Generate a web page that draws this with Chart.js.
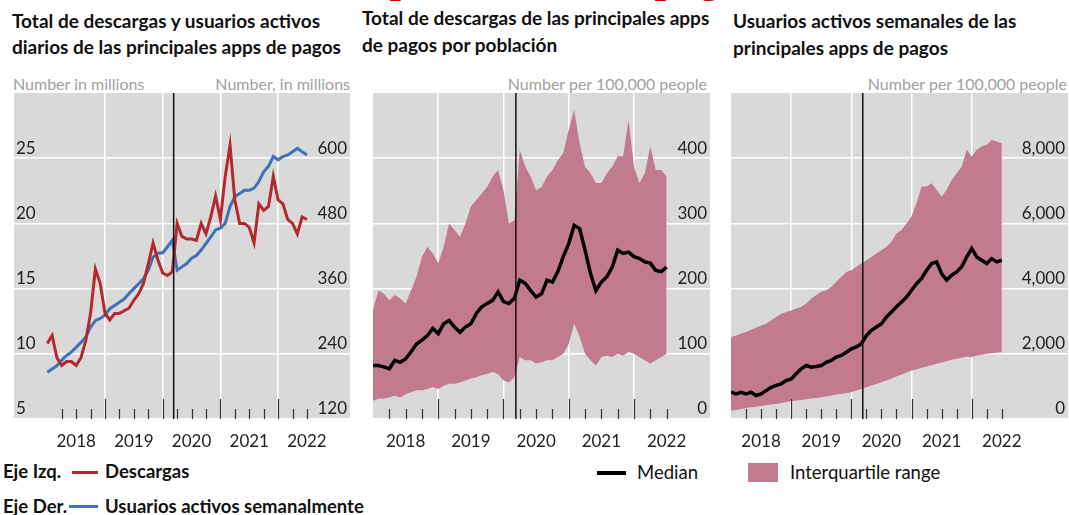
<!DOCTYPE html>
<html lang="es">
<head>
<meta charset="UTF-8" />
<title>Apps de pagos</title>
<style>
  * { margin: 0; padding: 0; box-sizing: border-box; }
  body {
    width: 1069px; height: 515px; position: relative; overflow: hidden;
    background: #fff; font-family: Lato, sans-serif; color: #111;
  }
  .t { position: absolute; font-weight: bold; font-size: 19px; line-height: 1; white-space: nowrap; }
  .u { position: absolute; color: #a0a0a0; font-size: 16px; line-height: 1; white-space: nowrap; }
  .lg { position: absolute; font-size: 18.5px; line-height: 1; white-space: nowrap; }
  .b { font-weight: bold; }
  .sw { position: absolute; }
  .box { position: absolute; top: 93px; height: 367px; }
  .clip { position: absolute; left: 0; top: 0; width: 1069px; height: 9px; overflow: hidden; }
  .red-head {
    position: absolute; top: -43px; font-family: "Liberation Serif", serif;
    font-weight: bold; font-size: 42px; line-height: 1; color: #d40000; white-space: nowrap;
  }
</style>
</head>
<body>
  <div class="clip">
    <div class="red-head" style="left:359px">Ap</div>
    <div class="red-head" style="left:602px">de pago</div>
  </div>

  <div class="t" style="left:12px; top:11px">Total de descargas y usuarios activos</div>
  <div class="t" style="left:12px; top:37px">diarios de las principales apps de pagos</div>
  <div class="t" style="left:362px; top:8px">Total de descargas de las principales apps</div>
  <div class="t" style="left:362px; top:35px">de pagos por población</div>
  <div class="t" style="left:733px; top:11px">Usuarios activos semanales de las</div>
  <div class="t" style="left:733px; top:38px">principales apps de pagos</div>

  <div class="u" style="left:13px; top:76px">Number in millions</div>
  <div class="u" style="right:719px; top:76px">Number, in millions</div>
  <div class="u" style="right:362px; top:76px">Number per 100,000 people</div>
  <div class="u" style="right:2px; top:76px">Number per 100,000 people</div>

  <div class="box" style="left:14px; width:336px"><canvas id="c1"></canvas></div>
  <div class="box" style="left:373px; width:337px"><canvas id="c2"></canvas></div>
  <div class="box" style="left:731px; width:337px"><canvas id="c3"></canvas></div>

  <div class="lg b" style="left:3px; top:462px">Eje Izq.</div>
  <div class="sw" style="left:72px; top:471px; width:26px; height:3px; background:#b5282d"></div>
  <div class="lg b" style="left:105px; top:462px">Descargas</div>
  <div class="lg b" style="left:3px; top:497px">Eje Der.</div>
  <div class="sw" style="left:69px; top:505px; width:29px; height:3px; background:#3d72b8"></div>
  <div class="lg b" style="left:105px; top:497px">Usuarios activos semanalmente</div>

  <div class="sw" style="left:597px; top:471px; width:29px; height:3.5px; background:#000"></div>
  <div class="lg" style="left:637px; top:463px">Median</div>
  <div class="sw" style="left:748px; top:463px; width:30px; height:19px; background:#c27b8e"></div>
  <div class="lg" style="left:790px; top:463px">Interquartile range</div>

  <script src="https://cdn.jsdelivr.net/npm/chart.js"></script>
  <script>
    // monthly observations, 2018-01 .. 2022-07
    const months = [];
    for (let y = 2018; y <= 2022; y++) {
      for (let m = 1; m <= 12; m++) {
        if (y === 2022 && m > 7) break;
        months.push(y + "-" + String(m).padStart(2, "0"));
      }
    }
    const yearLabels = ["2018", "2019", "2020", "2021", "2022"];
    const covidMark = 2020.19;

    // panel 1 (left axis: millions of downloads, right axis: millions of users)
    const descargas = [10.8, 11.4, 9.7, 9.1, 9.4, 9.4, 9.1, 9.7, 11.0, 13.1, 16.5, 15.4, 13.1, 12.6,
      13.1, 13.1, 13.3, 13.5, 14.1, 14.6, 15.4, 16.9, 18.5, 17.2, 16.2, 16.0, 16.3, 20.0, 19.0, 18.8,
      18.8, 18.7, 20.0, 19.2, 20.5, 22.1, 20.3, 23.6, 26.0, 21.8, 20.0, 20.0, 19.7, 18.5, 21.5, 21.0,
      21.3, 23.6, 21.8, 21.5, 20.3, 20.0, 19.2, 20.5, 20.3];
    const usuarios = [206, 212, 218, 228, 237, 243, 252, 261, 271, 289, 301, 305, 311, 323, 329, 335,
      341, 351, 360, 369, 378, 394, 418, 425, 426, 437, 449, 394, 400, 406, 416, 421, 431, 443, 455,
      468, 471, 480, 511, 529, 535, 541, 541, 545, 557, 575, 585, 603, 597, 603, 606, 612, 618, 612, 606];

    // panel 2 (downloads per 100,000 people)
    const descMedian = [82, 82, 80, 77, 90, 87, 92, 103, 115, 121, 128, 139, 131, 146, 151, 141, 133,
      141, 146, 162, 172, 177, 182, 195, 180, 177, 185, 213, 208, 197, 187, 192, 213, 210, 226, 249,
      269, 297, 292, 259, 223, 197, 210, 218, 233, 259, 254, 256, 249, 246, 241, 239, 228, 226, 233];
    const descQ3 = [167, 197, 192, 182, 190, 185, 177, 197, 218, 249, 264, 254, 239, 264, 300, 290,
      279, 300, 326, 336, 346, 356, 372, 382, 351, 300, 305, 413, 387, 372, 351, 356, 372, 382, 397,
      408, 444, 474, 423, 387, 377, 362, 362, 377, 387, 403, 403, 459, 387, 362, 377, 418, 382, 382, 372];
    const descQ1 = [28, 31, 31, 33, 36, 33, 38, 41, 44, 44, 46, 49, 46, 51, 54, 54, 56, 59, 62, 64, 67,
      69, 72, 69, 59, 56, 64, 95, 90, 90, 85, 87, 90, 90, 95, 100, 115, 146, 126, 100, 90, 82, 95, 97,
      95, 100, 97, 103, 100, 95, 90, 85, 90, 95, 100];

    // panel 3 (weekly active users per 100,000 people)
    const usuMedian = [820, 770, 820, 770, 820, 720, 770, 870, 970, 1030, 1080, 1180, 1230, 1390, 1540,
      1640, 1590, 1610, 1640, 1740, 1800, 1900, 1950, 2050, 2150, 2210, 2310, 2560, 2720, 2820, 2920,
      3130, 3280, 3440, 3590, 3740, 3950, 4150, 4310, 4560, 4770, 4820, 4460, 4260, 4410, 4510, 4670,
      4970, 5230, 4970, 4870, 4770, 4920, 4820, 4870];
    const usuQ3 = [2510, 2560, 2620, 2670, 2740, 2800, 2870, 2920, 3030, 3130, 3230, 3280, 3330, 3390,
      3440, 3540, 3690, 3800, 3900, 3950, 4050, 4210, 4360, 4510, 4560, 4670, 4770, 4870, 4970, 5080,
      5180, 5280, 5440, 5690, 5800, 6000, 6210, 6620, 7130, 7130, 7230, 7030, 6820, 7030, 7330, 7540,
      7740, 8260, 8050, 8260, 8360, 8410, 8560, 8510, 8460];
    const usuQ1 = [256, 277, 308, 338, 359, 379, 400, 420, 441, 462, 492, 523, 544, 564, 585, 605, 626,
      646, 667, 687, 718, 749, 770, 800, 820, 872, 923, 974, 1026, 1077, 1128, 1179, 1241, 1303, 1364,
      1426, 1487, 1528, 1569, 1610, 1651, 1692, 1733, 1774, 1815, 1846, 1877, 1918, 1897, 1949, 1969,
      2000, 2020, 2041, 2051];

    const RED = "#b5282d";
    const BLUE = "#3d72b8";
    const PINK = "#c27b8e";

    Chart.defaults.font.family = "Lato";
    Chart.defaults.color = "#222";

    const toX = (s) => +s.slice(0, 4) + (+s.slice(5) - 1) / 12;
    const pts = (arr) => months.map((m, i) => ({ x: toX(m), y: arr[i] }));

    const quarterTicks = [];
    for (let q = 2018.25; q <= 2022.5; q += 0.25) quarterTicks.push(q);

    const panelDecor = {
      id: "panelDecor",
      beforeDraw(chart) {
        const { ctx, chartArea: a } = chart;
        ctx.save();
        ctx.fillStyle = "#d9d9d9";
        ctx.fillRect(a.left, a.top, a.width, a.height);
        ctx.restore();
      },
      afterDatasetsDraw(chart) {
        const { ctx, chartArea: a, scales: { x } } = chart;
        ctx.save();
        ctx.strokeStyle = "#333";
        ctx.lineWidth = 1.2;
        x.ticks.forEach((t) => {
          const px = Math.round(x.getPixelForValue(t.value)) + 0.5;
          const len = Number.isInteger(t.value) ? 20 : 10;
          ctx.beginPath();
          ctx.moveTo(px, a.bottom);
          ctx.lineTo(px, a.bottom - len);
          ctx.stroke();
        });
        const cx = x.getPixelForValue(covidMark);
        ctx.strokeStyle = "#111";
        ctx.lineWidth = 1.5;
        ctx.beginPath();
        ctx.moveTo(cx, a.top);
        ctx.lineTo(cx, a.bottom);
        ctx.stroke();
        ctx.restore();
      },
    };

    function xScale(min, max) {
      return {
        type: "linear", min: min, max: max,
        afterBuildTicks(s) { s.ticks = quarterTicks.map((v) => ({ value: v })); },
        afterFit(s) { s.height = 41; s.paddingLeft = 0; s.paddingRight = 0; },
        grid: {
          drawTicks: false, lineWidth: 1.5,
          color: (c) => (c.tick && Number.isInteger(c.tick.value) ? "#ffffff" : "rgba(0,0,0,0)"),
        },
        border: { display: false },
        ticks: {
          autoSkip: false, maxRotation: 0, padding: 12, font: { size: 17 },
          callback: (v) => (Number.isInteger(v - 0.5) ? yearLabels[v - 0.5 - 2018] : ""),
        },
      };
    }

    // labels sit inside the plot (mirror); on the right axis a negative padding pulls them in
    function yScale(pos, min, max, list, grid, fmt) {
      return {
        type: "linear", position: pos, min: min, max: max,
        afterBuildTicks(s) { s.ticks = list.map((v) => ({ value: v })); },
        afterFit(s) { s.width = 0; s.paddingTop = 0; s.paddingBottom = 0; },
        grid: { display: grid, drawTicks: false, color: "#ffffff", lineWidth: 1.5 },
        border: { display: false },
        ticks: {
          mirror: true, padding: pos === "left" ? 2 : -3, labelOffset: -10,
          font: { size: 17 }, callback: fmt || ((v) => v),
        },
      };
    }

    const common = {
      responsive: true, maintainAspectRatio: false, animation: false, events: [],
      layout: { padding: 0 },
      elements: { point: { radius: 0 }, line: { tension: 0 } },
      plugins: { legend: { display: false }, tooltip: { enabled: false } },
    };

    new Chart(document.getElementById("c1"), {
      type: "line",
      data: {
        datasets: [
          { label: "Descargas", data: pts(descargas), yAxisID: "y", borderColor: RED, borderWidth: 3 },
          { label: "Usuarios", data: pts(usuarios), yAxisID: "y1", borderColor: BLUE, borderWidth: 3 },
        ],
      },
      options: {
        ...common,
        scales: {
          x: xScale(2017.423, 2023.246),
          y: yScale("left", 5, 30, [5, 10, 15, 20, 25], true),
          y1: yScale("right", 120, 720, [120, 240, 360, 480, 600], false),
        },
      },
      plugins: [panelDecor],
    });

    function bandChart(id, med, q3, q1, maxX, maxY, list, fmt) {
      return new Chart(document.getElementById(id), {
        type: "line",
        data: {
          datasets: [
            { label: "Median", data: pts(med), borderColor: "#000", borderWidth: 3.5 },
            { label: "Q3", data: pts(q3), borderWidth: 0, borderColor: PINK, backgroundColor: PINK, fill: "+1" },
            { label: "Q1", data: pts(q1), borderWidth: 0, borderColor: PINK },
          ],
        },
        options: {
          ...common,
          scales: {
            x: xScale(2018, maxX),
            y: yScale("right", 0, maxY, list, true, fmt),
          },
        },
        plugins: [panelDecor],
      });
    }

    bandChart("c2", descMedian, descQ3, descQ1, 2023.165, 500, [0, 100, 200, 300, 400]);
    bandChart("c3", usuMedian, usuQ3, usuQ1, 2023.6, 10000, [0, 2000, 4000, 6000, 8000],
      (v) => v.toLocaleString("en-US"));
  </script>
</body>
</html>
